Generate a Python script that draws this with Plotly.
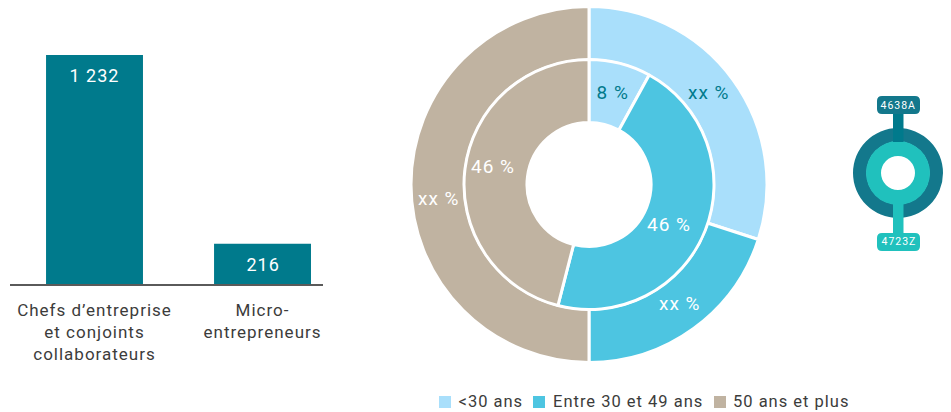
import plotly.graph_objects as go

W, H = 951, 412
FONT = "Roboto"
DARK = "#3c3c3b"

bar_categories = ["Chefs d’entreprise<br>et conjoints<br>collaborateurs", "Micro-<br>entrepreneurs"]
bar_values = [1232, 216]
bar_text = ["1 232", "216"]

age_labels = ["&lt;30 ans", "Entre 30 et 49 ans", "50 ans et plus"]
age_colors = ["#a9dffb", "#4dc5e1", "#c0b3a1"]
outer_values = [30, 20, 50]
outer_text = ["xx %", "xx %", "xx %"]
inner_values = [8, 46, 46]
inner_text = ["8 %", "46 %", "46 %"]
text_colors = ["#007a8c", "#ffffff", "#ffffff"]

code_top, code_bottom = "4638A", "4723Z"
code_values = [4638, 4723]
code_colors = ["#13788c", "#20c1bd"]
stem_top_color = "#007a8c"

legend_swatch_x = [439, 533, 714]
legend_text_center_x = [491, 628, 790.5]
outer_label_xy = [(709, 92), (680, 303), (439, 198)]
inner_label_xy = [(612, 92), (669, 224), (493, 166)]


def domain(cx, cy, r):
    return dict(x=[(cx - r) / W, (cx + r) / W], y=[(H - cy - r) / H, (H - cy + r) / H])


def rrect(x0, y0, x1, y1, r):
    px = lambda x: x / W
    py = lambda y: 1 - y / H
    return (f"M {px(x0 + r)} {py(y0)} L {px(x1 - r)} {py(y0)} Q {px(x1)} {py(y0)} {px(x1)} {py(y0 + r)} "
            f"L {px(x1)} {py(y1 - r)} Q {px(x1)} {py(y1)} {px(x1 - r)} {py(y1)} "
            f"L {px(x0 + r)} {py(y1)} Q {px(x0)} {py(y1)} {px(x0)} {py(y1 - r)} "
            f"L {px(x0)} {py(y0 + r)} Q {px(x0)} {py(y0)} {px(x0 + r)} {py(y0)} Z")


fig = go.Figure()

fig.add_trace(go.Bar(x=bar_categories, y=bar_values, marker=dict(color="#007a8c", line_width=0),
                     width=0.577, showlegend=False, hoverinfo="skip"))

CX, CY = 589, 184.5
for vals, r, hole in [
    (outer_values, 178, 124.5 / 178),
    (inner_values, 125, 62 / 125),
]:
    fig.add_trace(go.Pie(
        labels=age_labels, values=vals, textinfo="none",
        marker=dict(colors=age_colors, line=dict(color="#ffffff", width=3)),
        hole=hole, sort=False, direction="clockwise", rotation=0,
        domain=domain(CX, CY, r), showlegend=False, hoverinfo="skip",
    ))

ICX, ICY = 898, 173
for val, col, r, hole in [(code_values[0], code_colors[0], 45, 0.7), (code_values[1], code_colors[1], 32, 17 / 32)]:
    fig.add_trace(go.Pie(values=[val], labels=[str(val)], marker=dict(colors=[col], line_width=0),
                         hole=hole, textinfo="none", sort=False, domain=domain(ICX, ICY, r),
                         showlegend=False, hoverinfo="skip"))

shapes = [
    dict(type="rect", xref="paper", yref="paper", x0=893 / W, x1=903.5 / W, y0=1 - 142 / H, y1=1 - 112 / H,
         fillcolor=stem_top_color, line_width=0),
    dict(type="rect", xref="paper", yref="paper", x0=893 / W, x1=903.5 / W, y0=1 - 236 / H, y1=1 - 203 / H,
         fillcolor=code_colors[1], line_width=0),
    dict(type="path", xref="paper", yref="paper", path=rrect(877, 96, 920, 114, 5), fillcolor=code_colors[0], line_width=0),
    dict(type="path", xref="paper", yref="paper", path=rrect(877, 233, 920, 251, 5), fillcolor=code_colors[1], line_width=0),
] + [
    dict(type="rect", xref="paper", yref="paper", x0=x / W, x1=(x + 12) / W, y0=1 - 408 / H, y1=1 - 396 / H,
         fillcolor=c, line_width=0)
    for x, c in zip(legend_swatch_x, age_colors)
]

annotations = [
    dict(x=bar_categories[i], y=bar_values[i], xref="x", yref="y", text=bar_text[i], showarrow=False,
         xanchor="center", yanchor="top", yshift=-8, font=dict(color="#ffffff", size=18, family=FONT))
    for i in range(2)
]
for (x, y), t in [((898.5, 105), code_top), ((898.5, 242), code_bottom)]:
    annotations.append(dict(x=x / W, y=1 - y / H, xref="paper", yref="paper", text=t, showarrow=False,
                            xanchor="center", yanchor="middle", font=dict(color="#ffffff", size=10.5, family=FONT)))
for x, t in zip(legend_text_center_x, age_labels):
    annotations.append(dict(x=x / W, y=1 - 401.5 / H, xref="paper", yref="paper", text=t, showarrow=False,
                            xanchor="center", yanchor="middle", font=dict(color=DARK, size=16.5, family=FONT)))
for xy_list, txt_list in [(outer_label_xy, outer_text), (inner_label_xy, inner_text)]:
    for (x, y), t, c in zip(xy_list, txt_list, text_colors):
        annotations.append(dict(x=x / W, y=1 - y / H, xref="paper", yref="paper", text=t, showarrow=False,
                                xanchor="center", yanchor="middle",
                                font=dict(color=c, size=19, family=FONT)))

fig.update_layout(
    width=W, height=H, margin=dict(l=0, r=0, t=0, b=0, pad=0, autoexpand=False),
    paper_bgcolor="#ffffff", plot_bgcolor="#ffffff",
    font=dict(family=FONT, color=DARK, size=16),
    shapes=shapes, annotations=annotations, showlegend=False,
    xaxis=dict(domain=[10 / W, 323 / W], range=[-0.503, 1.36], showgrid=False, zeroline=False,
               showline=True, linecolor="#5a5a5a", linewidth=1.5, ticks="", tickfont=dict(size=17, color=DARK),
               ticklabelstandoff=10, tickangle=0, fixedrange=True),
    yaxis=dict(domain=[(H - 284) / H, 1], range=[0, 1232 * 284 / 229], visible=False, fixedrange=True),
)

POST = """
document.body.style.margin = '0';
var st = document.createElement('style');
st.textContent = '.main-svg text { letter-spacing: 1px; }';
document.head.appendChild(st);
Plotly.redraw(document.getElementById('{plot_id}'));
"""

fig.write_html("out.html", config=dict(displayModeBar=False), post_script=POST)
